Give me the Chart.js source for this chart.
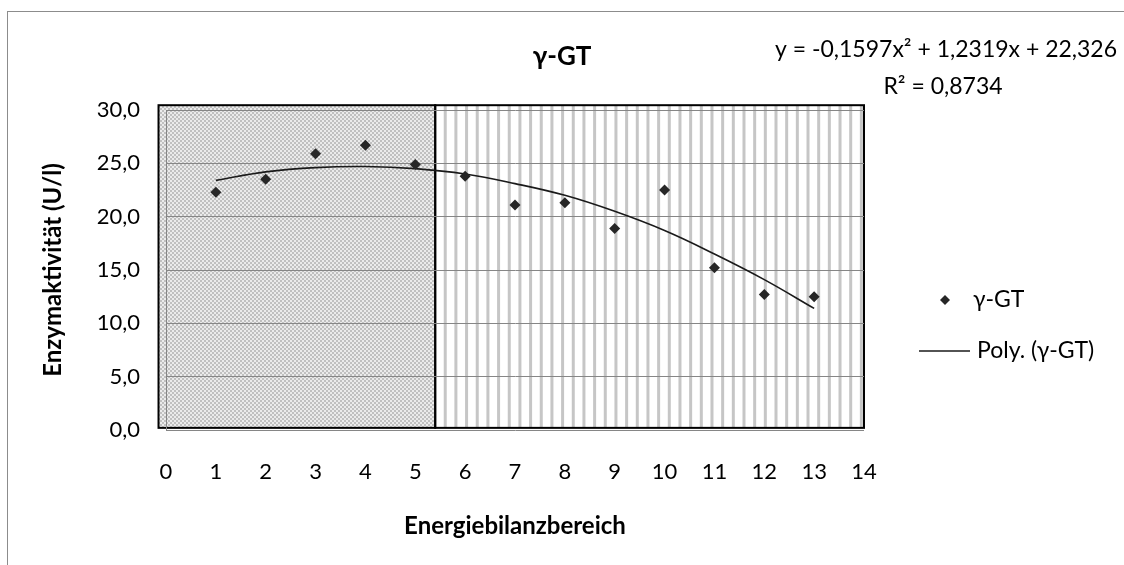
<!DOCTYPE html>
<html>
<head>
<meta charset="utf-8">
<script src="https://cdn.jsdelivr.net/npm/chart.js@4"></script>
<style>
body{margin:0;background:#fff}
#wrap{position:relative;width:1124px;height:565px;overflow:hidden;background:#fff}
#frame{position:absolute;left:7px;top:11px;width:1200px;height:600px;border:1px solid #8c8c8c}
#chartCanvas{position:absolute;left:0;top:0}
</style>
</head>
<body>
<div id="wrap"><div id="frame"></div><canvas id="chartCanvas" width="1124" height="565"></canvas></div>
<script>
const categories = [1, 2, 3, 4, 5, 6, 7, 8, 9, 10, 11, 12, 13]
const enzymeValues = [22.3, 23.5, 25.9, 26.7, 24.9, 23.8, 21.1, 21.3, 18.9, 22.5, 15.2, 12.7, 12.5]
const polyValues = [23.4, 24.2, 24.6, 24.7, 24.5, 24.0, 23.1, 22.0, 20.5, 18.7, 16.5, 14.1, 11.4]
const xTicks = [0, 1, 2, 3, 4, 5, 6, 7, 8, 9, 10, 11, 12, 13, 14]
const yTicks = [0, 5, 10, 15, 20, 25, 30]
const seriesLabel = "γ-GT"
const trendLabel = "Poly. (γ-GT)"
const equationLines = ["y = -0,1597x² + 1,2319x + 22,326", "R² = 0,8734"]

const FONT = "Lato"

// checker texture for the left box
const checker = document.createElement("canvas")
checker.width = checker.height = 4
;(()=>{
    const c = checker.getContext("2d")
    c.fillStyle = "#ebebeb"
    c.fillRect(0, 0, 4, 4)
    c.fillStyle = "#c0c0c0"
    c.fillRect(0, 0, 2, 2)
    c.fillRect(2, 2, 2, 2)
})();

const shadePlugin = {
    id: "shade",
    beforeDraw(chart){
        const {ctx, scales: {x, y}} = chart
        const left = x.getPixelForValue(-0.15)
        const mid = x.getPixelForValue(5.4)
        const right = x.getPixelForValue(14)
        const top = y.getPixelForValue(30.45)
        const bottom = y.getPixelForValue(0.2)
        ctx.save()
        ctx.fillStyle = ctx.createPattern(checker, "repeat")
        ctx.fillRect(left, top, mid - left, bottom - top)
        ctx.fillStyle = "#fff"
        ctx.fillRect(mid, top, right - mid, bottom - top)
        ctx.beginPath()
        ctx.rect(mid, top, right - mid, bottom - top)
        ctx.clip()
        ctx.fillStyle = "#c6c6c6"
        for(let sx = mid + 10; sx < right; sx += 10.67){
            ctx.fillRect(sx - 1.5, top, 3, bottom - top)
        }
        ctx.restore()
        ctx.save()
        ctx.strokeStyle = "#000"
        ctx.lineWidth = 2
        ctx.strokeRect(left, top, mid - left, bottom - top)
        ctx.strokeRect(mid, top, right - mid, bottom - top)
        ctx.restore()
    }
}

const notesPlugin = {
    id: "notes",
    afterDraw(chart){
        const ctx = chart.ctx
        ctx.save()
        ctx.fillStyle = "#000"
        // title
        ctx.font = "bold 26px " + FONT
        ctx.textAlign = "center"
        ctx.textBaseline = "middle"
        ctx.fillText(seriesLabel, 562, 57)

        ctx.font = "23px " + FONT
        ctx.fillText(equationLines[0], 946, 50)
        ctx.fillText(equationLines[1], 943, 87)

        // legend
        ctx.textAlign = "left"
        ctx.font = "23px " + FONT
        ctx.fillStyle = "#262626"
        ctx.beginPath()
        ctx.moveTo(945, 295)
        ctx.lineTo(950, 300)
        ctx.lineTo(945, 305)
        ctx.lineTo(940, 300)
        ctx.closePath()
        ctx.fill()
        ctx.fillStyle = "#000"
        ctx.fillText(chart.data.datasets[0].label, 973, 300)
        ctx.strokeStyle = "#1a1a1a"
        ctx.lineWidth = 1.6
        ctx.beginPath()
        ctx.moveTo(919, 351)
        ctx.lineTo(970, 351)
        ctx.stroke()
        ctx.fillText(chart.data.datasets[1].label, 977, 351)
        ctx.restore()
    }
}

const chart = new Chart(document.querySelector("#chartCanvas"), {
    type: "scatter",
    data: {
        datasets: [
            {
                label: seriesLabel,
                data: categories.map((c, i)=>({x: c, y: enzymeValues[i]})),
                pointStyle: "rectRot",
                pointRadius: 5.5,
                backgroundColor: "#262626",
                borderColor: "#262626",
                borderWidth: 0,
                order: 0
            },
            {
                type: "line",
                label: trendLabel,
                data: categories.map((c, i)=>({x: c, y: polyValues[i]})),
                borderColor: "#1a1a1a",
                borderWidth: 1.6,
                pointRadius: 0,
                tension: 0.4,
                fill: false,
                order: 1
            }
        ]
    },
    options: {
        responsive: false,
        animation: false,
        layout: {padding: {left: 0, top: 110, right: 260, bottom: 0}},
        plugins: {
            legend: {display: false},
            tooltip: {enabled: false},
            title: {display: false}
        },
        scales: {
            x: {
                type: "linear",
                min: 0,
                max: 14,
                afterBuildTicks: s => { s.ticks = xTicks.map(v=>({value: v})) },
                afterFit: s => { s.height = 135 },
                grid: {display: false},
                border: {display: false},
                ticks: {color: "#000", padding: 21, font: {family: FONT, size: 22}},
                title: {
                    display: true,
                    text: "Energiebilanzbereich",
                    color: "#000",
                    font: {family: FONT, size: 24, weight: "bold"},
                    padding: {top: 0, bottom: 24}
                }
            },
            y: {
                min: 0,
                max: 30,
                afterBuildTicks: s => { s.ticks = yTicks.map(v=>({value: v})) },
                afterFit: s => { s.width = 166 },
                grid: {color: "#868686", lineWidth: 1, drawTicks: false},
                border: {color: "#868686"},
                ticks: {
                    color: "#000",
                    padding: 26,
                    font: {family: FONT, size: 22},
                    callback: v => v.toFixed(1).replace(".", ",")
                },
                title: {
                    display: true,
                    text: "Enzymaktivität (U/l)",
                    color: "#000",
                    font: {family: FONT, size: 24, weight: "bold"},
                    padding: {top: 39, bottom: 0}
                }
            }
        }
    },
    plugins: [shadePlugin, notesPlugin]
})
</script>
</body>
</html>
